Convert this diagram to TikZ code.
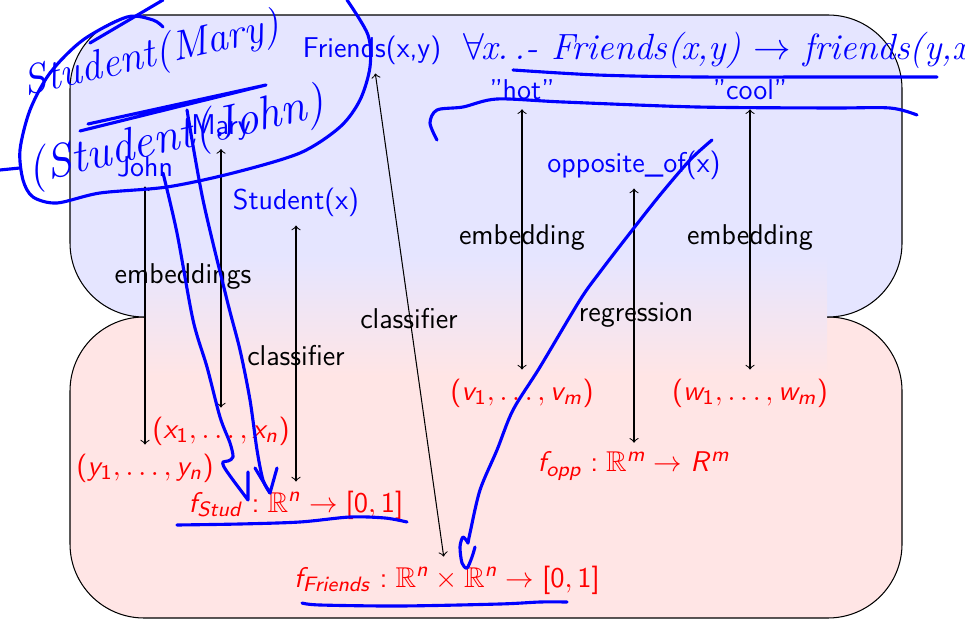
\documentclass[tikz,border=0pt]{standalone}
\usepackage{amsmath,amssymb}
\usepackage{tikz}
\usetikzlibrary{arrows.meta,positioning}
% sans serif math as on a slide
\DeclareSymbolFont{operators}{OT1}{cmss}{m}{n}
\DeclareSymbolFont{sfletters}{OT1}{cmss}{m}{sl}
\newcommand\sfletter[1]{\DeclareMathSymbol{#1}{\mathalpha}{sfletters}{`#1}}
\sfletter v \sfletter w \sfletter x \sfletter y \sfletter m \sfletter n
\sfletter f \sfletter o \sfletter p \sfletter S \sfletter t \sfletter u
\sfletter d \sfletter F \sfletter r \sfletter i \sfletter e \sfletter s
\sfletter R

\begin{document}
\begin{tikzpicture}[
    x=0.0135cm,y=-0.0135cm,
    every node/.style={font=\fontsize{11}{13}\selectfont\sffamily},
    sym/.style={text=blue},
    vecnode/.style={text=red},
    rel/.style={text=black},
    link/.style={<->,>=to,line width=0.4pt},
    ink/.style={draw=blue,line width=1.2pt,line cap=round,line join=round},
    hand/.style={text=blue,font=\fontsize{16}{18}\selectfont\itshape},
]
\useasboundingbox (0,0) rectangle (965,620);

% symbolic layer and vector layer
\draw[fill=red!10,rounded corners=1cm] (70,317) rectangle (902,618);
\draw[fill=blue!10,rounded corners=1cm] (70,15) rectangle (902,317);
\shade[top color=blue!10,bottom color=red!10] (145,257) rectangle (827,375);

% symbols
\node[sym] (friends) at (372,50) {Friends(x,y)};
\node[sym] (hot) at (522,90) {''hot''};
\node[sym] (cool) at (750,90) {''cool''};
\node[sym] (mary) at (221,127) {Mary};
\node[sym] (john) at (145,167) {John};
\node[sym] (student) at (296,202) {Student(x)};
\node[sym] (opp) at (634,165) {opposite\_of(x)};

% vectors and functions
\node[vecnode] (vv) at (522,393) {$(v_1,\dots,v_m)$};
\node[vecnode] (ww) at (750,393) {$(w_1,\dots,w_m)$};
\node[vecnode] (xx) at (221,431) {$(x_1,\dots,x_n)$};
\node[vecnode] (yy) at (145,468) {$(y_1,\dots,y_n)$};
\node[vecnode] (fopp) at (634,466) {$f_{opp}:\mathbb{R}^m\to R^m$};
\node[vecnode] (fstud) at (296,505) {$f_{Stud}:\mathbb{R}^n\to[0,1]$};
\node[vecnode] (ffriends) at (447,580) {$f_{Friends}:\mathbb{R}^n\times\mathbb{R}^n\to[0,1]$};

\draw[link] (john) -- (yy);
\draw[link] (mary) -- (xx);
\draw[link] (student) -- (fstud);
\draw[link] (friends) -- (ffriends);
\draw[link] (hot) -- (vv);
\draw[link] (cool) -- (ww);
\draw[link] (opp) -- (fopp);

\node[rel] (embjm) at (183,277) {embeddings};
\node[rel] (embhot) at (522,238) {embedding};
\node[rel] (embcool) at (750,238) {embedding};
\node[rel] (clsfr) at (409,319) {classifier};
\node[rel] (clsst) at (296,356) {classifier};
\node[rel] (regr) at (636,315) {regression};

% handwritten notes
\node[hand,rotate=13,anchor=base west] (hmary) at (18,98) {Student(Mary)};
\node[hand,rotate=13,anchor=base west,font=\fontsize{18}{20}\selectfont\itshape] (hjohn) at (22,186) {(Student(John)};
\node[hand,anchor=base west,font=\fontsize{14}{16}\selectfont\itshape] (hrule) at (454,60) {$\forall$\kern-1pt x.\,.- Friends(x,y) $\to$ friends(y,x)};

\draw[ink] plot[smooth] coordinates {(347,0) (368,35) (370,67) (360,100) (340,127) (300,153) (233,173) (167,187) (100,193) (57,203) (33,197) (23,180) (20,150) (30,110) (50,73) (83,40) (127,17) (153,20) (163,27)};
\draw[ink] (90,43) -- (163,0);
\draw[ink] (0,170) -- (20,168);
\draw[ink] (80,131) -- (266,85) -- (88,124);
\draw[ink] plot[smooth] coordinates {(163,173) (177,233) (193,320) (207,367) (220,417) (230,443) (233,457) (228,461) (223,462) (224,467) (233,480) (248,500)} -- (248,472);
\draw[ink] plot[smooth] coordinates {(187,110) (203,200) (227,300) (240,350) (250,400) (257,450) (263,480) (270,493)};
\draw[ink] (255,468) -- (270,493) -- (277,468);
\draw[ink] plot[smooth] coordinates {(712,140) (690,160) (660,195) (630,233) (600,272) (580,300) (540,367) (513,410) (497,450) (480,490) (470,533) (468,543)};
\draw[ink] plot[smooth] coordinates {(468,543) (463,537) (460,547) (462,563) (467,568) (472,557) (475,547)};
\draw[ink] plot[smooth] coordinates {(177,525) (240,524) (300,522) (350,517) (385,518) (407,522)};
\draw[ink] plot[smooth] coordinates {(302,603) (320,605) (400,606) (500,604) (540,602) (567,602)};
\draw[ink] plot[smooth] coordinates {(513,70) (597,75) (697,77) (830,77) (937,77)};
\draw[ink] plot[smooth] coordinates {(437,140) (430,123) (437,110) (463,107) (497,99) (563,102) (697,107) (830,108) (890,108) (917,115)};
\end{tikzpicture}
\end{document}
